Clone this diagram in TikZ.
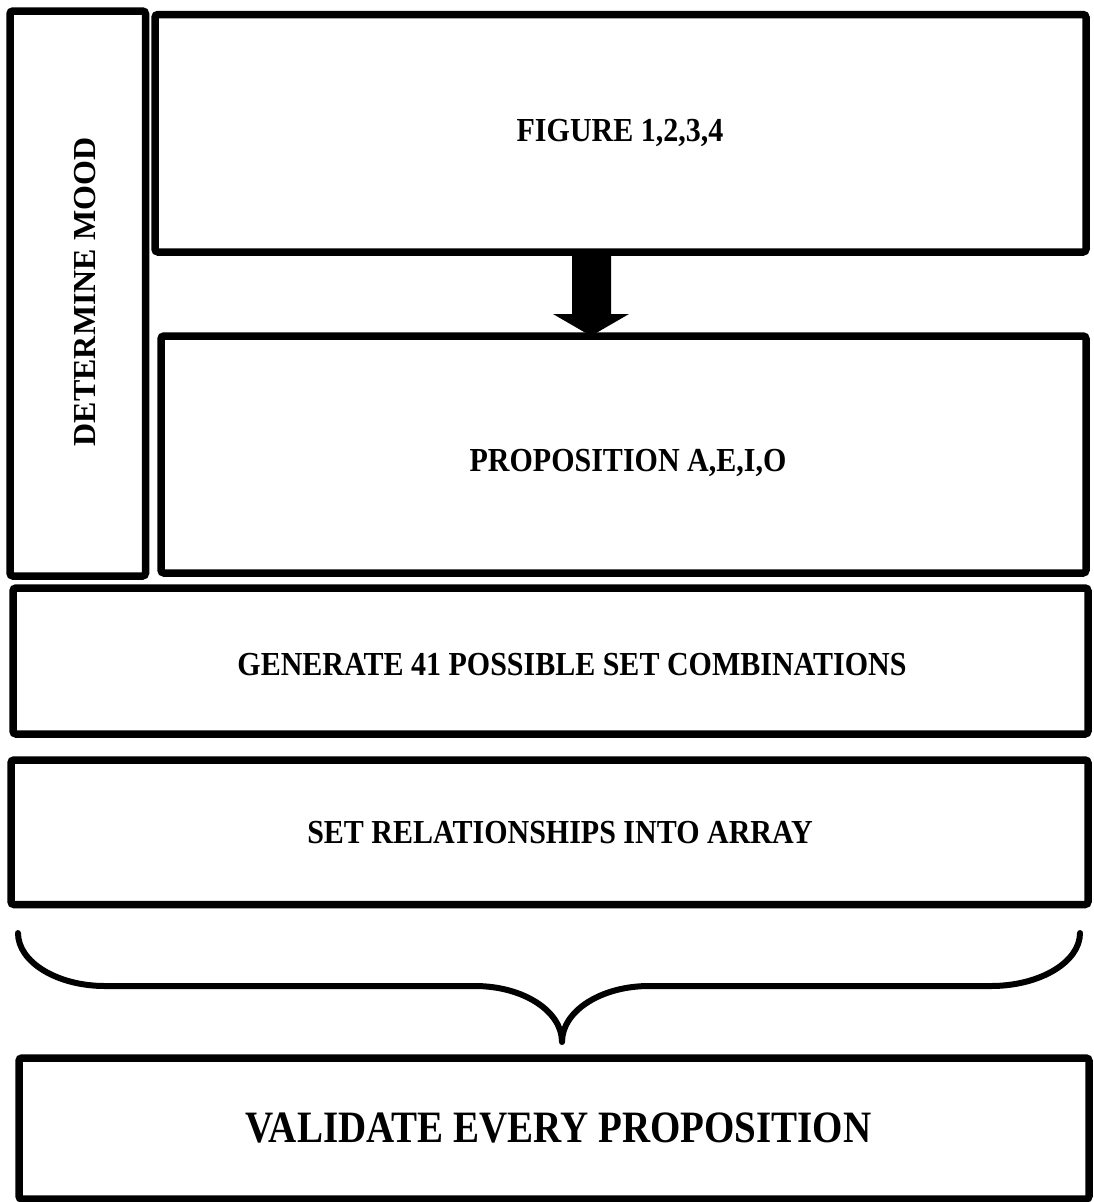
\documentclass[tikz,border=0pt]{standalone}
\usepackage{fontspec}
\setmainfont{Liberation Serif}
\begin{document}
\begin{tikzpicture}[x=1pt,y=-1pt,
  frame/.style={draw=black, line width=7.5pt, rounded corners=3pt},
  lbl/.style={inner sep=0pt, transform shape, yscale=1.12,
    font=\bfseries\fontsize{30}{36}\selectfont},
  biglbl/.style={inner sep=0pt, transform shape, yscale=1.15,
    font=\bfseries\fontsize{39}{46}\selectfont}]
\useasboundingbox (0,0) rectangle (1094,1202);

% frames
\draw[frame] (10,11) rectangle (145.5,576);
\draw[frame] (155,14.5) rectangle (1086,252);
\draw[frame] (161,336) rectangle (1086,573);
\draw[frame] (13,588) rectangle (1088,734);
\draw[frame] (11,760) rectangle (1088,904.5);
\draw[frame] (19,1058) rectangle (1089,1199);

% labels
\node[inner sep=0pt, rotate=90, font=\bfseries\fontsize{32}{38}\selectfont]
  (mood) at (85,292) {DETERMINE MOOD};
\node[lbl] (fig) at (620,133) {FIGURE 1,2,3,4};
\node[lbl] (prop) at (628,463) {PROPOSITION A,E,I,O};
\node[lbl] (gen) at (572,665) {GENERATE 41 POSSIBLE SET COMBINATIONS};
\node[lbl] (rel) at (560,833) {SET RELATIONSHIPS INTO ARRAY};
\node[biglbl] (val) at (558.5,1128) {VALIDATE EVERY PROPOSITION};

% block arrow between the top two frames
\fill (572,252) -- (611,252) -- (611,314) -- (629,314) -- (591,336)
  -- (553,314) -- (572,314) -- cycle;

% brace gathering the steps above
\draw[line width=6pt, line cap=round, line join=round]
  (18,933) .. controls (18,962) and (57,986) .. (105,986)
  -- (475,986) .. controls (523,986) and (562,1011) .. (562,1042)
  .. controls (562,1011) and (601,986) .. (649,986)
  -- (991,986) .. controls (1040,986) and (1080,962) .. (1080,933);
\end{tikzpicture}
\end{document}
